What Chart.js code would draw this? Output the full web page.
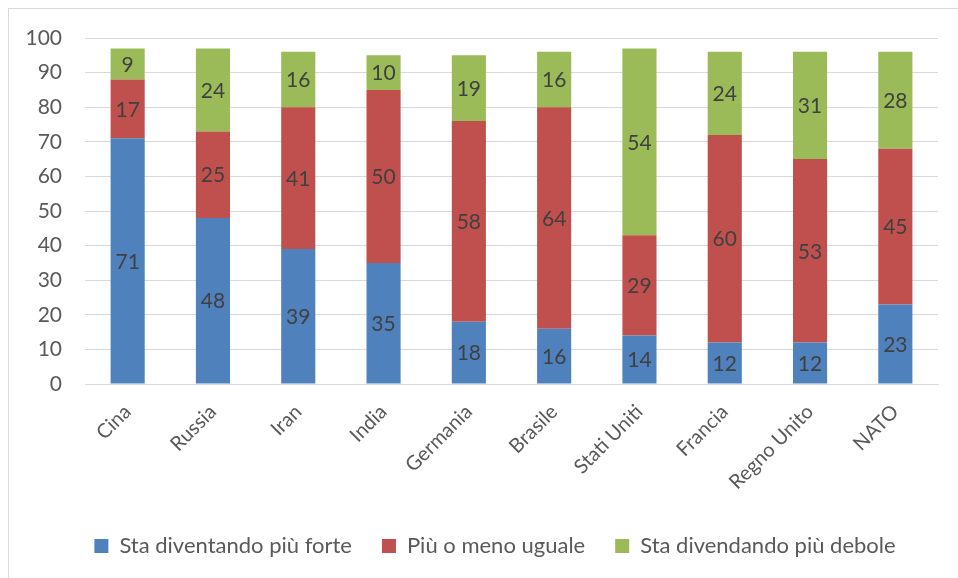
<!DOCTYPE html>
<html>
<head>
<meta charset="utf-8">
<script src="https://cdn.jsdelivr.net/npm/chart.js@4"></script>
<style>
    body { margin: 0; background: #fff; overflow: hidden; }
    #frame {
        position: absolute; left: 8px; top: 8px;
        width: 1000px; height: 700px;
        border: 1px solid #d9d9d9;
    }
    #wrap { position: absolute; left: 0; top: 0; width: 958px; height: 578px; }
</style>
</head>
<body>
<div id="frame"></div>
<div id="wrap"><canvas id="chart"></canvas></div>
<script>
// Chart data
const categories = ['Cina', 'Russia', 'Iran', 'India', 'Germania', 'Brasile', 'Stati Uniti', 'Francia', 'Regno Unito', 'NATO'];
const stronger = [71, 48, 39, 35, 18, 16, 14, 12, 12, 23];
const same = [17, 25, 41, 50, 58, 64, 29, 60, 53, 45];
const weaker = [9, 24, 16, 10, 19, 16, 54, 24, 31, 28];
const seriesNames = ['Sta diventando più forte', 'Più o meno uguale', 'Sta divendando più debole'];
const yTicks = [0, 10, 20, 30, 40, 50, 60, 70, 80, 90, 100];

const FONT = 'Lato, "Open Sans", sans-serif';

// Draw the value in the middle of each segment
const segmentLabels = {
    id: 'segmentLabels',
    afterDatasetsDraw(chart) {
        const ctx = chart.ctx;
        ctx.save();
        ctx.font = '21px ' + FONT;
        ctx.fillStyle = '#404040';
        ctx.textAlign = 'center';
        ctx.textBaseline = 'middle';
        chart.data.datasets.forEach((ds, i) => {
            chart.getDatasetMeta(i).data.forEach((bar, j) => {
                const y = (bar.y + bar.base) / 2;
                ctx.fillText(String(ds.data[j]), bar.x, y + 1);
            });
        });
        ctx.restore();
    }
};

// Legend sits centred under the plot area, not the whole canvas
const legendShift = {
    id: 'legendShift',
    afterLayout(chart) {
        if (chart.legend) {
            chart.legend.left += 16;
            chart.legend.right += 16;
        }
    }
};

new Chart(document.getElementById('chart'), {
    type: 'bar',
    data: {
        labels: categories,
        datasets: [
            { label: seriesNames[0], data: stronger, backgroundColor: '#4f81bd' },
            { label: seriesNames[1], data: same, backgroundColor: '#c0504d' },
            { label: seriesNames[2], data: weaker, backgroundColor: '#9bbb59' }
        ]
    },
    options: {
        responsive: true,
        maintainAspectRatio: false,
        animation: false,
        categoryPercentage: 1,
        barPercentage: 0.4,
        layout: {
            padding: { left: 20, right: 20, top: 38, bottom: 11 }
        },
        plugins: {
            legend: {
                position: 'bottom',
                labels: {
                    color: '#595959',
                    font: { family: FONT, size: 22 },
                    boxWidth: 14,
                    boxHeight: 14,
                    padding: 30
                }
            },
            tooltip: { enabled: false }
        },
        scales: {
            x: {
                stacked: true,
                grid: { display: false },
                border: { color: '#d9d9d9', width: 1 },
                afterFit(scale) {
                    scale.height = 121;
                },
                ticks: {
                    color: '#595959',
                    font: { family: FONT, size: 20 },
                    minRotation: 45,
                    maxRotation: 45,
                    padding: 8
                }
            },
            y: {
                stacked: true,
                min: 0,
                max: 100,
                afterBuildTicks(scale) {
                    scale.ticks = yTicks.map(v => ({ value: v }));
                },
                afterFit(scale) {
                    scale.width = 65;
                },
                grid: { color: '#d9d9d9', drawTicks: false },
                border: { display: false },
                ticks: {
                    color: '#595959',
                    font: { family: FONT, size: 21 },
                    padding: 23
                }
            }
        }
    },
    plugins: [segmentLabels, legendShift]
});
</script>
</body>
</html>
